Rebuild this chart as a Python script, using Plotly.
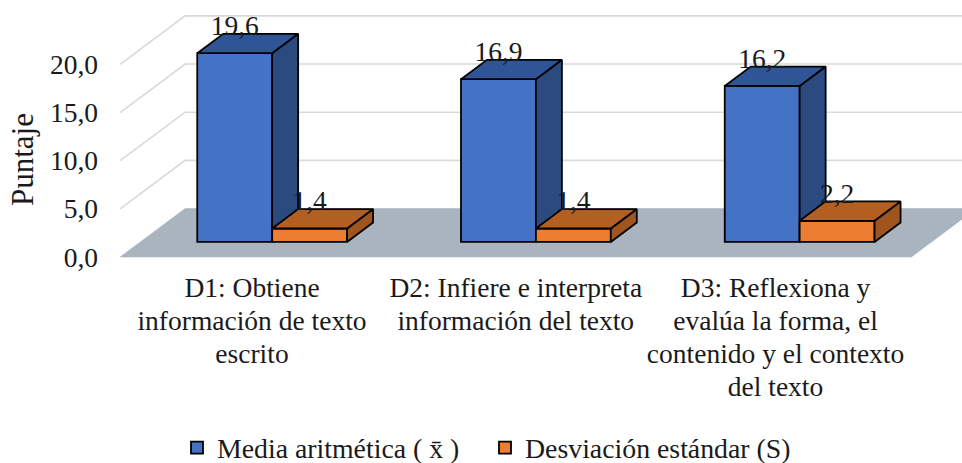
import plotly.graph_objects as go

categories = [
    ["D1: Obtiene", "información de texto", "escrito"],
    ["D2: Infiere e interpreta", "información del texto"],
    ["D3: Reflexiona y", "evalúa la forma, el", "contenido y el contexto", "del texto"],
]
media = [19.6, 16.9, 16.2]
desviacion = [1.4, 1.4, 2.2]
y_ticks = [0, 5, 10, 15, 20]
series_names = ["Media aritmética ( x\u0304 )", "Desviación estándar (S)"]
y_title = "Puntaje"

FONT = "Liberation Serif"
INK = "#1a1a1a"
TXT = 27.5
W, H = 962, 463
ML, MB = 102, 200
PX_PER_CAT, PX_PER_UNIT = 263.75, 9.63
X0_PX, Y0_PX = 252, 257
DX, DY = 65 / PX_PER_CAT, 48.5 / PX_PER_UNIT
D0, D1 = 0.31, 0.71
BAR_W = 0.284

x_range = [(ML - X0_PX) / PX_PER_CAT, (W - X0_PX) / PX_PER_CAT]
y_range = [(Y0_PX - (H - MB)) / PX_PER_UNIT, Y0_PX / PX_PER_UNIT]


def proj(x, v, d):
    return x + d * DX, v + d * DY


def polys(list_of_points):
    xs, ys = [], []
    for pts in list_of_points:
        for p in pts + pts[:1]:
            xs.append(p[0])
            ys.append(p[1])
        xs.append(None)
        ys.append(None)
    return xs, ys


fig = go.Figure()

# walls and floor (lowest layer)
for v in y_ticks[1:]:
    a, b, c = proj(-0.5, v, 0), proj(-0.5, v, 1), proj(3, v, 1)
    fig.add_trace(go.Scatter(x=[a[0], b[0], c[0]], y=[a[1], b[1], c[1]], mode="lines",
                             line=dict(color="#d9d9d9", width=1.6), showlegend=False, hoverinfo="skip"))
fx, fy = polys([[proj(-0.5, 0, 0), proj(2.5, 0, 0), proj(2.5, 0, 1), proj(-0.5, 0, 1)]])
fig.add_trace(go.Scatter(x=fx, y=fy, mode="lines", fill="toself", fillcolor="#a9b4be",
                         line=dict(color="#a9b4be", width=0.5), showlegend=False, hoverinfo="skip"))


def add_series(values, offset, name, front, top, side, axis):
    xa, ya = "x" + axis, "y" + axis
    n = len(values)
    lefts = [i + offset - BAR_W / 2 for i in range(n)]
    rights = [l + BAR_W for l in lefts]
    sx, sy = polys([[proj(r, 0, D0), proj(r, 0, D1), proj(r, v, D1), proj(r, v, D0)]
                    for r, v in zip(rights, values)])
    tx, ty = polys([[proj(l, v, D0), proj(r, v, D0), proj(r, v, D1), proj(l, v, D1)]
                    for l, r, v in zip(lefts, rights, values)])
    border = dict(color="#000000", width=1.8)
    fig.add_trace(go.Bar(x=[i + offset + D0 * DX for i in range(n)], y=values,
                         base=[D0 * DY] * n, width=BAR_W, name=name,
                         marker=dict(color=front, line=border), xaxis=xa, yaxis=ya))
    fig.add_trace(go.Scatter(x=sx, y=sy, mode="lines", fill="toself", fillcolor=side, line=border,
                             showlegend=False, hoverinfo="skip", xaxis=xa, yaxis=ya))
    fig.add_trace(go.Scatter(x=tx, y=ty, mode="lines", fill="toself", fillcolor=top, line=border,
                             showlegend=False, hoverinfo="skip", xaxis=xa, yaxis=ya))


add_series(media, -BAR_W / 2, series_names[0], "#4472c4", "#2f5597", "#2a4a80", "2")
add_series(desviacion, BAR_W / 2, series_names[1], "#ed7d31", "#b45f22", "#a0541e", "3")

# data labels on the top layer
for values, offset in ((media, -BAR_W / 2), (desviacion, BAR_W / 2)):
    fig.add_trace(go.Scatter(
        x=[i + offset + D0 * DX for i in range(len(values))],
        y=[v + D0 * DY + 25 / PX_PER_UNIT for v in values],
        mode="text", text=[f"{v:.1f}".replace(".", ",") for v in values],
        textposition="middle center", textfont=dict(family=FONT, size=TXT, color=INK),
        showlegend=False, hoverinfo="skip", cliponaxis=False, xaxis="x3", yaxis="y3"))

tick_text = ["<br>".join(f'<span style="font-size:{TXT}px">{ln}</span>' for ln in lines)
             for lines in categories]

hidden = dict(visible=False, fixedrange=True)
fig.update_layout(
    width=W, height=H, autosize=False,
    margin=dict(l=ML, r=0, t=0, b=MB, pad=0),
    paper_bgcolor="#ffffff", plot_bgcolor="#ffffff",
    separators=",.",
    barmode="overlay",
    font=dict(family=FONT, size=TXT, color=INK),
    xaxis=dict(range=x_range, tickmode="array", tickvals=[0, 1, 1.985], ticktext=tick_text,
               showgrid=False, zeroline=False, showline=False, ticks="", automargin=False,
               tickangle=0, tickfont=dict(family=FONT, size=25.4, color=INK), ticklabelstandoff=8),
    yaxis=dict(range=y_range, tickmode="array", tickvals=y_ticks, tickformat=".1f",
               showgrid=False, zeroline=False, showline=False, ticks="", automargin=False,
               tickfont=dict(family=FONT, size=TXT, color=INK), ticklabelstandoff=3),
    xaxis2=dict(range=x_range, overlaying="x", **hidden),
    yaxis2=dict(range=y_range, overlaying="y", **hidden),
    xaxis3=dict(range=x_range, overlaying="x", **hidden),
    yaxis3=dict(range=y_range, overlaying="y", **hidden),
    legend=dict(orientation="h", xref="container", yref="container", x=177 / W, y=1 - 448 / H,
                xanchor="left", yanchor="middle", font=dict(family=FONT, size=27.8, color=INK),
                entrywidth=263, entrywidthmode="pixels", bgcolor="rgba(0,0,0,0)"),
    showlegend=True,
    annotations=[dict(text=y_title, textangle=-90, xref="paper", yref="paper",
                      x=(22 - ML) / (W - ML), y=((H - MB) - 160) / (H - MB),
                      xanchor="center", yanchor="middle", showarrow=False,
                      font=dict(family=FONT, size=31, color=INK))],
)

fig.write_html("out.html", config={"displayModeBar": False},
               post_script="document.body.style.margin='0';document.documentElement.style.overflow='hidden';")
